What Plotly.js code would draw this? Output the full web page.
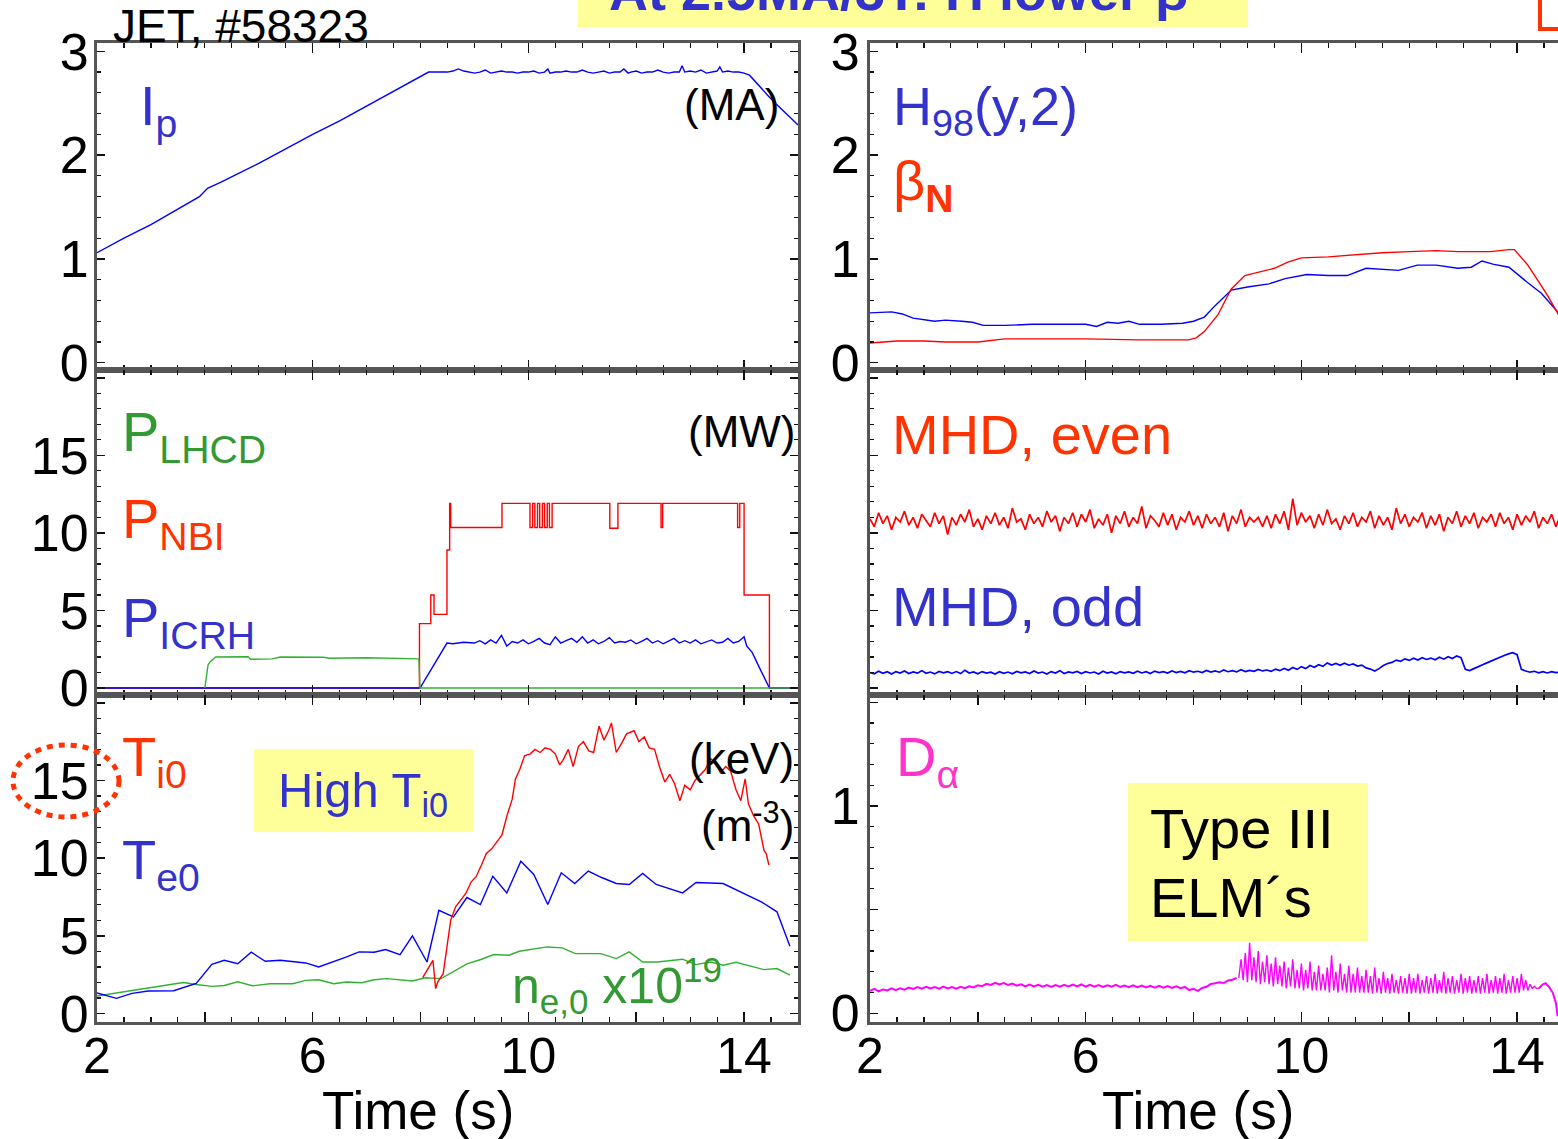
<!DOCTYPE html>
<html>
<head>
<meta charset="utf-8">
<script src="https://cdn.plot.ly/plotly-3.0.1.min.js"></script>
<style>
html,body{margin:0;padding:0;overflow:hidden;background:#fff;}
#chart{width:1572px;height:1139px;}
</style>
</head>
<body>
<div id="chart"></div>
<script>
// ---------------- DATA ----------------
// x-axis tick labels (time, s)
const xTickVals = [2, 4, 6, 8, 10, 12, 14];
const xTickText = ['2', '', '6', '', '10', '', '14'];

// Top-left: plasma current Ip (MA)
const tIp = [2.0, 2.5, 3.0, 3.5, 3.9, 4.05, 4.3, 5.0, 5.5, 6.0, 6.5, 7.0, 7.5, 8.0, 8.15, 8.3, 8.4, 8.5, 8.6, 8.7, 8.8, 8.9, 9.0, 9.1, 9.2, 9.3, 9.4, 9.5, 9.6, 9.7, 9.8, 9.9, 10.0, 10.1, 10.2, 10.3, 10.36, 10.4, 10.5, 10.6, 10.7, 10.8, 10.9, 11.0, 11.1, 11.2, 11.3, 11.4, 11.5, 11.6, 11.7, 11.77, 11.85, 11.9, 12.0, 12.1, 12.2, 12.3, 12.4, 12.5, 12.6, 12.7, 12.8, 12.85, 12.9, 13.0, 13.1, 13.2, 13.3, 13.4, 13.5, 13.55, 13.6, 13.7, 13.8, 13.9, 14.0, 14.1, 14.2, 14.3, 14.45, 14.6, 14.75, 14.9, 15.0];
const Ip = [1.06, 1.20, 1.33, 1.48, 1.60, 1.68, 1.74, 1.92, 2.06, 2.20, 2.33, 2.47, 2.61, 2.75, 2.80, 2.80, 2.80, 2.80, 2.81, 2.83, 2.81, 2.80, 2.79, 2.80, 2.82, 2.79, 2.80, 2.81, 2.80, 2.80, 2.79, 2.80, 2.80, 2.81, 2.79, 2.80, 2.83, 2.79, 2.80, 2.80, 2.81, 2.80, 2.80, 2.82, 2.80, 2.79, 2.80, 2.81, 2.79, 2.80, 2.80, 2.83, 2.79, 2.80, 2.81, 2.79, 2.80, 2.80, 2.82, 2.80, 2.79, 2.80, 2.80, 2.86, 2.80, 2.81, 2.80, 2.82, 2.79, 2.80, 2.81, 2.85, 2.80, 2.81, 2.80, 2.80, 2.79, 2.77, 2.71, 2.65, 2.57, 2.49, 2.41, 2.34, 2.29];

// Middle-left: heating powers (MW)
const tLHCD = [4.0, 4.02, 4.06, 4.1, 4.2, 4.8, 4.85, 5.25, 5.4, 6.2, 6.3, 7.0, 7.5, 7.97, 7.99, 15];
const pLHCD = [0, 0.6, 1.5, 1.7, 2.0, 2.02, 1.85, 1.88, 2.0, 1.98, 1.92, 1.95, 1.9, 1.88, 0, 0];
const tNBI = [2, 7.98, 8.19, 8.25, 8.49, 8.54, 8.56, 9.51, 10.03, 10.08, 10.12, 10.17, 10.21, 10.26, 10.30, 10.35, 10.39, 10.44, 10.50, 11.51, 11.66, 12.46, 12.49, 13.88, 13.92, 14.0, 14.47, 15];
const pNBI = [0, 4.15, 6.0, 4.75, 8.9, 11.9, 10.35, 11.9, 10.35, 11.9, 10.35, 11.9, 10.35, 11.9, 10.35, 11.9, 10.35, 11.9, 11.9, 10.3, 11.9, 10.35, 11.9, 10.35, 11.9, 6.0, 0, 0];
const tICRH = [2, 7.99, 8.49, 8.6, 8.8, 9.0, 9.1, 9.2, 9.3, 9.4, 9.5, 9.6, 9.7, 9.8, 9.9, 10.0, 10.1, 10.2, 10.3, 10.4, 10.5, 10.6, 10.7, 10.8, 10.9, 11.0, 11.1, 11.2, 11.3, 11.4, 11.5, 11.6, 11.7, 11.8, 11.9, 12.0, 12.1, 12.2, 12.3, 12.4, 12.5, 12.6, 12.7, 12.8, 12.9, 13.0, 13.1, 13.2, 13.3, 13.4, 13.5, 13.6, 13.7, 13.8, 13.9, 14.0, 14.05, 14.15, 14.3, 14.47, 15];
const pICRH = [0, 0, 2.9, 2.85, 2.95, 2.9, 3.05, 2.85, 3.1, 2.9, 3.4, 2.7, 3.0, 2.9, 3.1, 2.85, 3.0, 3.2, 2.9, 2.8, 3.3, 2.9, 3.05, 3.2, 2.95, 3.3, 2.9, 3.1, 2.85, 3.0, 3.25, 2.9, 3.0, 2.95, 3.1, 2.85, 3.0, 3.2, 2.9, 3.05, 2.85, 3.0, 3.2, 2.9, 3.05, 2.9, 3.1, 2.85, 3.0, 3.1, 2.9, 2.95, 3.2, 2.9, 3.0, 3.3, 2.7, 2.3, 1.2, 0, 0];

// Bottom-left: central temperatures (keV) and density (1e19 m^-3)
const tTi = [8.04, 8.23, 8.28, 8.32, 8.42, 8.49, 8.56, 8.65, 8.75, 8.84, 8.94, 9.03, 9.13, 9.22, 9.32, 9.41, 9.51, 9.60, 9.70, 9.76, 9.84, 9.93, 10.03, 10.12, 10.22, 10.31, 10.41, 10.50, 10.58, 10.64, 10.74, 10.83, 10.93, 11.02, 11.12, 11.21, 11.31, 11.40, 11.50, 11.54, 11.63, 11.73, 11.82, 11.96, 12.05, 12.15, 12.24, 12.34, 12.43, 12.53, 12.62, 12.71, 12.81, 12.90, 13.0, 13.09, 13.19, 13.28, 13.38, 13.47, 13.56, 13.66, 13.75, 13.85, 13.94, 14.02, 14.08, 14.18, 14.27, 14.37, 14.41, 14.46];
const Ti = [2.31, 3.43, 1.61, 2.04, 2.57, 4.29, 6.01, 6.87, 7.3, 7.73, 8.48, 8.81, 9.56, 10.3, 10.6, 11.0, 11.5, 12.7, 13.8, 15.1, 15.7, 16.6, 16.7, 17.0, 16.8, 17.1, 17.0, 16.7, 16.0, 16.3, 17.0, 15.9, 17.2, 17.5, 16.9, 16.8, 18.5, 17.6, 18.3, 18.7, 16.8, 17.4, 18.0, 18.2, 17.5, 17.8, 17.1, 17.0, 15.9, 14.9, 15.4, 14.8, 13.7, 14.7, 14.4, 15.0, 15.4, 15.7, 16.4, 16.2, 15.5, 15.9, 15.6, 14.4, 13.7, 15.1, 13.5, 12.7, 12.2, 10.5, 10.3, 9.56];
const tTe = [2.0, 2.36, 2.65, 2.95, 3.42, 3.84, 4.13, 4.36, 4.61, 4.86, 5.12, 5.40, 5.87, 6.11, 6.63, 6.86, 7.14, 7.35, 7.62, 7.85, 8.12, 8.34, 8.61, 8.86, 9.11, 9.34, 9.60, 9.86, 10.10, 10.36, 10.61, 10.86, 11.11, 11.37, 11.63, 11.87, 12.12, 12.37, 12.86, 13.11, 13.61, 14.09, 14.32, 14.61, 14.85];
const Te = [1.33, 0.98, 1.30, 1.45, 1.47, 1.94, 3.17, 3.43, 3.21, 3.95, 3.37, 3.43, 3.26, 3.0, 3.65, 3.97, 3.95, 4.12, 3.80, 5.0, 3.32, 6.65, 6.22, 7.47, 7.02, 8.84, 7.77, 9.81, 8.95, 7.02, 9.06, 8.37, 9.17, 8.74, 8.37, 8.31, 9.02, 8.31, 7.77, 8.44, 8.37, 7.56, 7.19, 6.55, 4.34];
const tNe = [2.0, 2.66, 3.13, 3.60, 3.84, 4.13, 4.36, 4.61, 4.88, 5.21, 5.63, 5.87, 6.11, 6.39, 6.63, 6.91, 7.14, 7.38, 7.85, 8.09, 8.38, 8.61, 8.87, 9.12, 9.36, 9.64, 9.83, 10.35, 10.63, 10.87, 11.34, 11.63, 11.87, 12.12, 12.39, 12.86, 13.10, 13.38, 13.61, 13.85, 14.37, 14.61, 14.85];
const Ne = [1.13, 1.49, 1.77, 2.0, 1.87, 1.75, 1.81, 2.05, 1.79, 1.92, 1.92, 2.14, 2.18, 1.92, 2.03, 1.99, 2.18, 2.25, 2.10, 2.31, 2.25, 2.68, 3.22, 3.48, 3.80, 3.76, 4.01, 4.29, 4.23, 3.86, 3.86, 3.54, 3.97, 3.32, 3.32, 3.50, 3.15, 3.32, 3.11, 3.30, 2.83, 2.90, 2.47];

// Top-right: H98(y,2) and beta_N
const tH98 = [2.0, 2.4, 2.6, 2.8, 3.2, 3.4, 3.7, 3.9, 4.1, 4.5, 5.0, 5.5, 6.0, 6.2, 6.4, 6.6, 6.8, 7.0, 7.4, 7.8, 8.0, 8.2, 8.4, 8.7, 9.0, 9.4, 9.7, 10.1, 10.5, 10.85, 11.2, 11.8, 12.15, 12.5, 12.8, 12.9, 13.15, 13.35, 13.55, 13.85, 14.2, 14.45, 14.75, 15.0];
const H98 = [0.48, 0.49, 0.47, 0.43, 0.40, 0.41, 0.40, 0.39, 0.36, 0.36, 0.37, 0.37, 0.37, 0.35, 0.39, 0.38, 0.40, 0.37, 0.37, 0.38, 0.40, 0.44, 0.55, 0.70, 0.73, 0.76, 0.81, 0.85, 0.84, 0.84, 0.91, 0.89, 0.94, 0.94, 0.92, 0.91, 0.92, 0.98, 0.95, 0.92, 0.77, 0.67, 0.49, 0.38];
const tBetaN = [2.0, 2.5, 3.0, 3.4, 4.0, 4.5, 5.0, 6.0, 7.0, 7.9, 8.05, 8.2, 8.45, 8.7, 8.95, 9.2, 9.5, 9.75, 10.0, 10.5, 11.0, 11.5, 12.0, 12.5, 12.9, 13.2, 13.5, 13.85, 13.95, 14.2, 14.55, 14.85, 15.0];
const betaN = [0.19, 0.21, 0.21, 0.20, 0.20, 0.23, 0.23, 0.23, 0.22, 0.22, 0.24, 0.30, 0.46, 0.71, 0.84, 0.87, 0.91, 0.97, 1.01, 1.02, 1.04, 1.06, 1.07, 1.08, 1.07, 1.07, 1.07, 1.09, 1.09, 0.94, 0.66, 0.39, 0.25];

// Middle-right: MHD signals (arb.), sampled from t0 = 2 s every 0.08 s
const mhdT0 = 2, mhdDt = 0.08;
const mhdEven = [10.9, 10.4, 11.3, 10.6, 11.1, 10.2, 11.0, 10.7, 11.4, 10.5,
  11.0, 10.3, 11.2, 10.8, 10.4, 11.3, 10.6, 11.1, 9.9, 11.0,
  10.5, 11.2, 10.7, 11.5, 10.4, 10.9, 10.2, 11.1, 10.6, 11.3,
  10.5, 11.0, 10.3, 11.6, 10.7, 10.9, 10.2, 11.2, 10.6, 11.0,
  10.4, 11.4, 10.7, 11.1, 10.1, 11.0, 10.6, 11.3, 10.4, 11.2,
  10.7, 11.5, 10.3, 10.9, 10.5, 11.2, 10.0, 11.1, 10.6, 11.4,
  10.4, 11.0, 10.6, 11.7, 10.3, 11.1, 10.8, 10.4, 11.3, 10.5,
  11.2, 10.2, 11.0, 10.7, 11.4, 10.5, 11.1, 10.3, 11.2, 10.6,
  11.0, 10.4, 11.3, 10.1, 11.1, 10.6, 11.5, 10.4, 11.0, 10.7,
  11.0, 10.4, 11.1, 10.3, 11.2, 10.6, 11.4, 10.2, 12.2, 10.5,
  11.3, 10.7, 11.1, 10.3, 11.2, 10.5, 11.5, 10.6, 10.9, 10.2,
  11.1, 10.6, 11.3, 10.4, 11.0, 10.7, 11.4, 10.3, 11.1, 10.5,
  11.0, 10.2, 11.6, 10.6, 11.2, 10.4, 11.0, 10.7, 11.3, 10.3,
  11.1, 10.5, 11.2, 10.1, 11.0, 10.6, 11.4, 10.4, 11.1, 10.6,
  11.3, 10.3, 11.0, 10.7, 11.2, 10.4, 11.3, 10.6, 11.0, 10.2,
  11.2, 10.5, 11.1, 10.7, 11.4, 10.3, 11.0, 10.6, 11.2, 10.4,
  11.1, 10.3, 11.3, 10.6, 11.0];
const mhdOdd = [1.0, 0.92, 1.08, 0.95, 1.05, 0.9, 1.06, 0.97, 1.1, 0.93,
  1.04, 0.96, 1.12, 0.95, 1.03, 0.91, 1.07, 0.98, 1.05, 0.94,
  1.06, 0.93, 1.15, 0.97, 1.04, 0.92, 1.06, 0.96, 1.02, 0.9,
  1.05, 0.95, 1.03, 0.92, 1.07, 0.98, 1.04, 0.93, 1.1, 0.96,
  1.03, 0.9, 1.06, 0.97, 1.12, 0.94, 1.04, 0.98, 1.07, 0.93,
  1.05, 0.97, 1.03, 0.9, 1.08, 0.96, 1.04, 0.92, 1.06, 0.98,
  1.04, 0.95, 1.08, 0.97, 1.05, 0.93, 1.09, 1.0, 1.06, 0.97,
  1.1, 1.0, 1.07, 0.98, 1.12, 1.02, 1.08, 1.0, 1.13, 1.03,
  1.1, 1.02, 1.16, 1.05, 1.12, 1.04, 1.18, 1.06, 1.14, 1.08,
  1.2, 1.1, 1.16, 1.08, 1.22, 1.12, 1.26, 1.15, 1.32, 1.2,
  1.38, 1.25, 1.45, 1.34, 1.5, 1.4, 1.62, 1.48, 1.58, 1.46,
  1.6, 1.47, 1.55, 1.42, 1.48, 1.3, 1.22, 1.1, 1.25, 1.45,
  1.58, 1.65, 1.8, 1.72, 1.88, 1.78, 1.92, 1.8, 1.95, 1.84,
  1.93, 1.82, 1.98, 1.86, 2.02, 1.9, 2.06, 1.95, 1.2, 1.12,
  1.25, 1.35, 1.5, 1.62, 1.75, 1.88, 2.0, 2.1, 2.2, 2.28,
  2.15, 1.2, 1.1, 1.02, 1.08, 0.98, 1.06, 0.97, 1.05, 0.99,
  1.04, 0.96, 1.03, 0.98, 1.02];

// Bottom-right: D-alpha (arb.)
const daT0 = 2, daDt = 0.08;          // L-mode phase samples
const daLmode = [0.108, 0.118, 0.106, 0.115, 0.110, 0.120, 0.112, 0.121, 0.114, 0.124,
  0.117, 0.126, 0.119, 0.128, 0.120, 0.127, 0.119, 0.129, 0.120, 0.127,
  0.119, 0.128, 0.121, 0.130, 0.125, 0.135, 0.131, 0.142, 0.137, 0.147,
  0.139, 0.146, 0.137, 0.143, 0.133, 0.140, 0.130, 0.138, 0.129, 0.137,
  0.128, 0.136, 0.127, 0.136, 0.128, 0.137, 0.129, 0.138, 0.130, 0.139,
  0.129, 0.137, 0.128, 0.136, 0.127, 0.135, 0.128, 0.137, 0.127, 0.134,
  0.126, 0.135, 0.126, 0.134, 0.125, 0.133, 0.124, 0.132, 0.123, 0.131,
  0.122, 0.130, 0.121, 0.127, 0.112, 0.118, 0.108, 0.122, 0.128, 0.141,
  0.145, 0.150, 0.146, 0.158, 0.162, 0.170];
const elmT0 = 8.84, elmDt = 0.04;     // Type III ELM phase samples
const daElm = [0.17, 0.26, 0.16, 0.29, 0.15, 0.34, 0.16, 0.27, 0.15, 0.30,
  0.14, 0.25, 0.15, 0.28, 0.14, 0.24, 0.13, 0.27, 0.14, 0.23,
  0.13, 0.25, 0.12, 0.22, 0.13, 0.26, 0.12, 0.21, 0.12, 0.24,
  0.11, 0.21, 0.12, 0.25, 0.11, 0.20, 0.11, 0.23, 0.11, 0.19,
  0.11, 0.22, 0.10, 0.28, 0.11, 0.20, 0.10, 0.24, 0.11, 0.19,
  0.10, 0.23, 0.10, 0.19, 0.10, 0.22, 0.10, 0.18, 0.10, 0.21,
  0.10, 0.18, 0.095, 0.22, 0.10, 0.17, 0.095, 0.20, 0.10, 0.17,
  0.095, 0.19, 0.10, 0.16, 0.095, 0.18, 0.10, 0.17, 0.095, 0.19,
  0.095, 0.17, 0.10, 0.19, 0.095, 0.16, 0.10, 0.18, 0.095, 0.17,
  0.10, 0.19, 0.095, 0.16, 0.10, 0.20, 0.095, 0.17, 0.10, 0.18,
  0.095, 0.16, 0.10, 0.19, 0.095, 0.17, 0.10, 0.18, 0.095, 0.16,
  0.10, 0.18, 0.095, 0.17, 0.10, 0.19, 0.095, 0.16, 0.10, 0.18,
  0.095, 0.17, 0.10, 0.19, 0.095, 0.16, 0.10, 0.18, 0.10, 0.17,
  0.10, 0.19, 0.11, 0.16, 0.11, 0.14, 0.12, 0.13, 0.12, 0.12];
const tDaEnd = [14.4, 14.48, 14.53, 14.6, 14.66, 14.72, 14.75, 15.0];
const daEnd = [0.12, 0.14, 0.145, 0.125, 0.10, 0.05, -0.01, -0.01];

// ---------------- STYLE / LAYOUT ----------------
const W = 1572, H = 1139;
const FONT = 'Liberation Sans, Arial, Helvetica, sans-serif';
const fx = p => p / W, fy = p => 1 - p / H;
const BLUE = '#0000ff', RED = '#ff0000', GREEN = '#33b033', MAG = '#ff00ff';
const TBLUE = '#3333cc', TRED = '#ff3300', TGREEN = '#339933', TMAG = '#ff33cc';

const xL = [fx(97), fx(798)], xR = [fx(870), fx(1571)];
const yT = [fy(370), fy(43)], yM = [fy(695), fy(370)], yB = [fy(1022), fy(695)];

function xax(dom, anchor, labels) {
  return {domain: dom, anchor: anchor, range: [2, 15], showgrid: false, zeroline: false,
    showline: true, linecolor: '#555', linewidth: 3, mirror: 'ticks',
    ticks: 'inside', ticklen: 10, tickwidth: 1.5, tickcolor: '#111',
    tickmode: 'array', tickvals: xTickVals, ticktext: xTickText,
    showticklabels: labels, ticklabelstandoff: -12,
    tickfont: {family: FONT, size: 50, color: '#000'},
    minor: {tickmode: 'linear', tick0: 2, dtick: 0.5, ticks: 'inside', ticklen: 5, tickwidth: 1.2, tickcolor: '#111'},
    fixedrange: true};
}
function yax(dom, anchor, range, vals, text, mdt, standoff) {
  return {domain: dom, anchor: anchor, range: range, showgrid: false, zeroline: false,
    showline: true, linecolor: '#555', linewidth: 3, mirror: 'ticks',
    ticks: 'inside', ticklen: 8, tickwidth: 1.5, tickcolor: '#111',
    tickmode: 'array', tickvals: vals, ticktext: text,
    showticklabels: text.length > 0, ticklabelstandoff: standoff,
    tickfont: {family: FONT, size: 52, color: '#000'},
    minor: {tickmode: 'linear', tick0: 0, dtick: mdt, ticks: 'inside', ticklen: 4, tickwidth: 1.2, tickcolor: '#111'},
    fixedrange: true};
}

function ln(x, y, xa, ya, color, extra) {
  return Object.assign({x: x, y: y, xaxis: xa, yaxis: ya, type: 'scatter', mode: 'lines',
    line: {color: color, width: 1.4}, hoverinfo: 'skip', showlegend: false}, extra || {});
}
function lnd(y, x0, dx, xa, ya, color, w) {
  return {y: y, x0: x0, dx: dx, xaxis: xa, yaxis: ya, type: 'scatter', mode: 'lines',
    line: {color: color, width: w || 1.4}, hoverinfo: 'skip', showlegend: false};
}

const traces = [
  ln(tIp, Ip, 'x', 'y', BLUE),
  ln(tNBI, pNBI, 'x2', 'y2', RED, {line: {color: RED, width: 1.4, shape: 'hv'}}),
  ln(tICRH, pICRH, 'x2', 'y2', BLUE),
  ln(tLHCD, pLHCD, 'x2', 'y2', GREEN),
  ln(tNe, Ne, 'x3', 'y3', GREEN),
  ln(tTe, Te, 'x3', 'y3', BLUE),
  ln(tTi, Ti, 'x3', 'y3', RED),
  ln(tH98, H98, 'x4', 'y4', BLUE),
  ln(tBetaN, betaN, 'x4', 'y4', RED),
  lnd(mhdEven, mhdT0, mhdDt, 'x5', 'y5', RED, 1.7),
  lnd(mhdOdd, mhdT0, mhdDt, 'x5', 'y5', BLUE, 1.7),
  lnd(daLmode, daT0, daDt, 'x6', 'y6', MAG, 2),
  lnd(daElm, elmT0, elmDt, 'x6', 'y6', MAG, 1.4),
  ln(tDaEnd, daEnd, 'x6', 'y6', MAG, {line: {color: MAG, width: 2}})
];

function ann(text, px, py, size, color, xanchor, extra) {
  return Object.assign({text: text, xref: 'paper', yref: 'paper', x: fx(px), y: fy(py),
    xanchor: xanchor || 'left', yanchor: 'middle', showarrow: false,
    font: {family: FONT, size: size, color: color}}, extra || {});
}

const annotations = [
  ann('<b>At 2.5MA/3T: H lower β</b>', 898, -9, 54, TBLUE, 'center'),
  ann('JET, #58323', 111, 26, 46, '#000'),
  ann('I<sub>p</sub>', 138, 110, 56, TBLUE),
  ann('(MA)', 781, 105, 44, '#000', 'right'),
  ann('H<sub>98</sub>(y,2)', 891, 110, 54, TBLUE),
  ann('β<sub><b>N</b></sub>', 891, 184, 56, TRED),
  ann('P<sub>LHCD</sub>', 120, 435, 56, TGREEN),
  ann('(MW)', 798, 431, 44, '#000', 'right'),
  ann('P<sub>NBI</sub>', 120, 522, 56, TRED),
  ann('P<sub>ICRH</sub>', 120, 621, 56, TBLUE),
  ann('MHD, even', 890, 434, 56, TRED),
  ann('MHD, odd', 890, 606, 56, TBLUE),
  ann('T<sub>i0</sub>', 120, 760, 56, TRED),
  ann('T<sub>e0</sub>', 120, 863, 56, TBLUE),
  ann('High T<sub>i0</sub>', 276, 793, 49, TBLUE),
  ann('(keV)', 796, 758, 44, '#000', 'right'),
  ann('(m<sup>-3</sup>)', 796, 822, 44, '#000', 'right'),
  ann('n<sub>e,0</sub> x10<sup>19</sup>', 510, 986, 50, TGREEN),
  ann('D<sub>α</sub>', 894, 760, 56, TMAG),
  ann('Type III', 1148, 828, 56, '#000'),
  ann('ELM´s', 1148, 897, 56, '#000'),
  ann('Time (s)', 418, 1110, 53, '#000', 'center'),
  ann('Time (s)', 1198, 1110, 53, '#000', 'center')
];

function rectPx(x0, y0, x1, y1, extra) {
  return Object.assign({type: 'rect', xref: 'paper', yref: 'paper',
    x0: fx(x0), x1: fx(x1), y0: fy(y1), y1: fy(y0)}, extra);
}

const shapes = [
  rectPx(578, -60, 1248, 27, {fillcolor: '#ffff99', line: {width: 0}, layer: 'below'}),
  rectPx(254, 749, 473, 832, {fillcolor: '#ffff99', line: {width: 0}, layer: 'below'}),
  rectPx(1128, 783, 1368, 941, {fillcolor: '#ffff99', line: {width: 0}, layer: 'below'}),
  rectPx(1540, -60, 1700, 29, {fillcolor: 'rgba(0,0,0,0)', line: {color: TRED, width: 4}}),
  {type: 'circle', xref: 'paper', yref: 'paper', x0: fx(13), x1: fx(119), y0: fy(817), y1: fy(745),
   line: {color: TRED, width: 5, dash: '6px,6px'}}
];

const layout = {
  width: W, height: H, margin: {l: 0, r: 0, t: 0, b: 0},
  paper_bgcolor: '#fff', plot_bgcolor: 'rgba(0,0,0,0)', showlegend: false,
  font: {family: FONT},
  xaxis: xax(xL, 'y', false),
  yaxis: yax(yT, 'x', [-0.07, 3.08], [0, 1, 2, 3], ['0', '1', '2', '3'], 0.2, -5),
  xaxis2: xax(xL, 'y2', false),
  yaxis2: yax(yM, 'x2', [-0.45, 20.5], [0, 5, 10, 15, 20], ['0', '5', '10', '15', ''], 1, -5),
  xaxis3: xax(xL, 'y3', true),
  yaxis3: yax(yB, 'x3', [-0.54, 20.5], [0, 5, 10, 15, 20], ['0', '5', '10', '15', ''], 1, -5),
  xaxis4: xax(xR, 'y4', false),
  yaxis4: yax(yT, 'x4', [-0.07, 3.08], [0, 1, 2, 3], ['0', '1', '2', '3'], 0.2, -3),
  xaxis5: xax(xR, 'y5', false),
  yaxis5: yax(yM, 'x5', [-0.45, 20.5], [0, 5, 10, 15, 20], [], 1, -3),
  xaxis6: xax(xR, 'y6', true),
  yaxis6: yax(yB, 'x6', [-0.042, 1.535], [0, 0.5, 1, 1.5], ['0', '', '1', ''], 0.1, -3),
  annotations: annotations,
  shapes: shapes
};

Plotly.newPlot('chart', traces, layout, {displayModeBar: false, staticPlot: true});
</script>
</body>
</html>
